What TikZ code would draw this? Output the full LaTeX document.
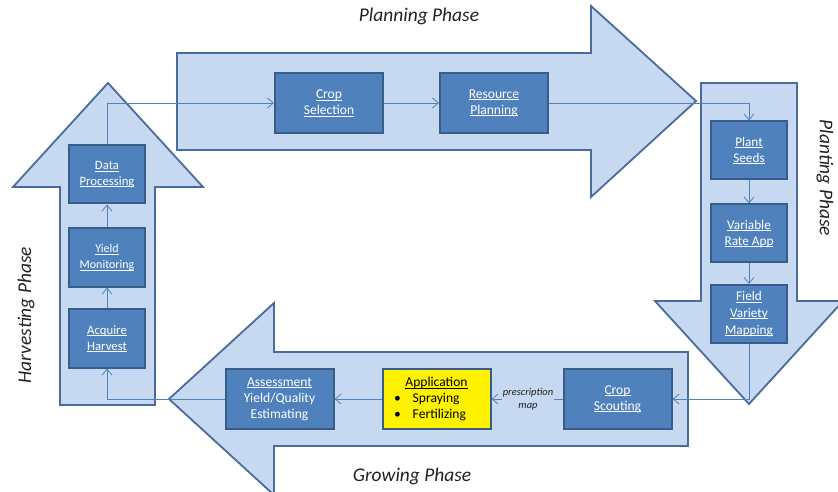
\documentclass[tikz,border=0pt]{standalone}
\usepackage{fontspec}
\setmainfont{Carlito}
\usetikzlibrary{arrows.meta}
\newcommand\uln[1]{\setbox0\hbox{#1}\rlap{\rule[-1.6bp]{\wd0}{0.6bp}}\box0}
\definecolor{phasefill}{RGB}{198,217,240}
\definecolor{phaseedge}{RGB}{74,108,156}
\definecolor{boxfill}{RGB}{79,129,189}
\definecolor{boxedge}{RGB}{56,93,138}
\definecolor{linkc}{RGB}{79,129,189}
\definecolor{labelc}{RGB}{34,34,34}
\tikzset{
 phase/.style={draw=phaseedge, fill=phasefill, line width=1.8bp, line join=miter},
 stepbox/.style={draw=boxedge, fill=boxfill, line width=2bp, text=white, align=center,
   font=\fontsize{13.6}{16}\selectfont, inner sep=0pt},
 wide/.style={minimum width=108bp, minimum height=60bp},
 narrow/.style={minimum width=76bp, minimum height=58bp},
 flow/.style={draw=linkc, line width=0.8bp, -{Straight Barb[length=6bp,width=10bp]}},
 phaselabel/.style={font=\fontsize{19.5}{22}\selectfont\itshape, text=labelc},
}
\begin{document}
\begin{tikzpicture}[x=1bp,y=-1bp]
\useasboundingbox (0,0) rectangle (838,492);
\fill[white] (0,0) rectangle (838,492);
% phase arrows
\draw[phase] (177,53) -- (591,53) -- (591,6) -- (696,101) -- (591,197) -- (591,150) -- (177,150) -- cycle;
\draw[phase] (701,83) -- (797,83) -- (797,301) -- (843,301) -- (749,404) -- (655,301) -- (701,301) -- cycle;
\draw[phase] (688,352) -- (688,446) -- (274,446) -- (274,495) -- (169,399) -- (274,303) -- (274,352) -- cycle;
\draw[phase] (60,405) -- (60,187) -- (13,187) -- (108,83) -- (203,187) -- (155,187) -- (155,405) -- cycle;
% phase labels
\node[phaselabel] (lplan) at (419,16) {Planning Phase};
\node[phaselabel, rotate=-90] (lplant) at (825,178) {Planting Phase};
\node[phaselabel] (lgrow) at (412,476) {Growing Phase};
\node[phaselabel, rotate=90] (lharv) at (26,315) {Harvesting Phase};
% steps
\node[stepbox, wide] (CS1) at (329,103) {\uln{Crop}\\\uln{Selection}};
\node[stepbox, wide] (RP) at (494,103) {\uln{Resource}\\\uln{Planning}};
\node[stepbox, narrow, font=\fontsize{13.3}{16}\selectfont] (PS) at (749,150.5) {\uln{Plant}\\\uln{Seeds}};
\node[stepbox, narrow, font=\fontsize{13.3}{16}\selectfont] (VR) at (749,233.5) {\uln{Variable}\\\uln{Rate App}};
\node[stepbox, narrow, font=\fontsize{13.3}{17}\selectfont] (FV) at (749,314) {\uln{Field}\\\uln{Variety}\\\uln{Mapping}};
\node[stepbox, wide] (SC) at (617.5,399) {\uln{Crop}\\\uln{Scouting}};
\node[stepbox, wide, fill=yellow, text=black] (AP) at (436.5,399)
  {\uln{Application}\\\makebox[85bp][l]{\textbullet\hspace{12bp}Spraying}\\\makebox[85bp][l]{\textbullet\hspace{12bp}Fertilizing}};
\node[stepbox, wide] (AS) at (279.5,399) {\uln{Assessment}\\Yield/Quality\\Estimating};
\node[stepbox, narrow, font=\fontsize{12.8}{16}\selectfont] (AH) at (107,338.5) {\uln{Acquire}\\\uln{Harvest}};
\node[stepbox, narrow, font=\fontsize{12}{16}\selectfont] (YM) at (107,257.5) {\uln{Yield}\\\uln{Monitoring}};
\node[stepbox, narrow, font=\fontsize{12.8}{16}\selectfont] (DP) at (107,174.5) {\uln{Data}\\\uln{Processing}};
% connectors
\draw[flow] (DP.north) |- (CS1.west);
\draw[flow] (CS1) -- (RP);
\draw[flow] (RP.east) -| (PS.north);
\draw[flow] (PS) -- (VR);
\draw[flow] (VR) -- (FV);
\draw[flow] (FV.south) |- (SC.east);
\draw[flow] (SC) -- (AP);
\draw[flow] (AP) -- (AS);
\draw[flow] (AS.west) -| (AH.south);
\draw[flow] (AH) -- (YM);
\draw[flow] (YM) -- (DP);
\node[fill=phasefill, inner sep=1bp, align=center, text=labelc,
  font=\fontsize{10.5}{13}\selectfont\itshape] (pm) at (528,399) {prescription\\map};
\end{tikzpicture}
\end{document}
